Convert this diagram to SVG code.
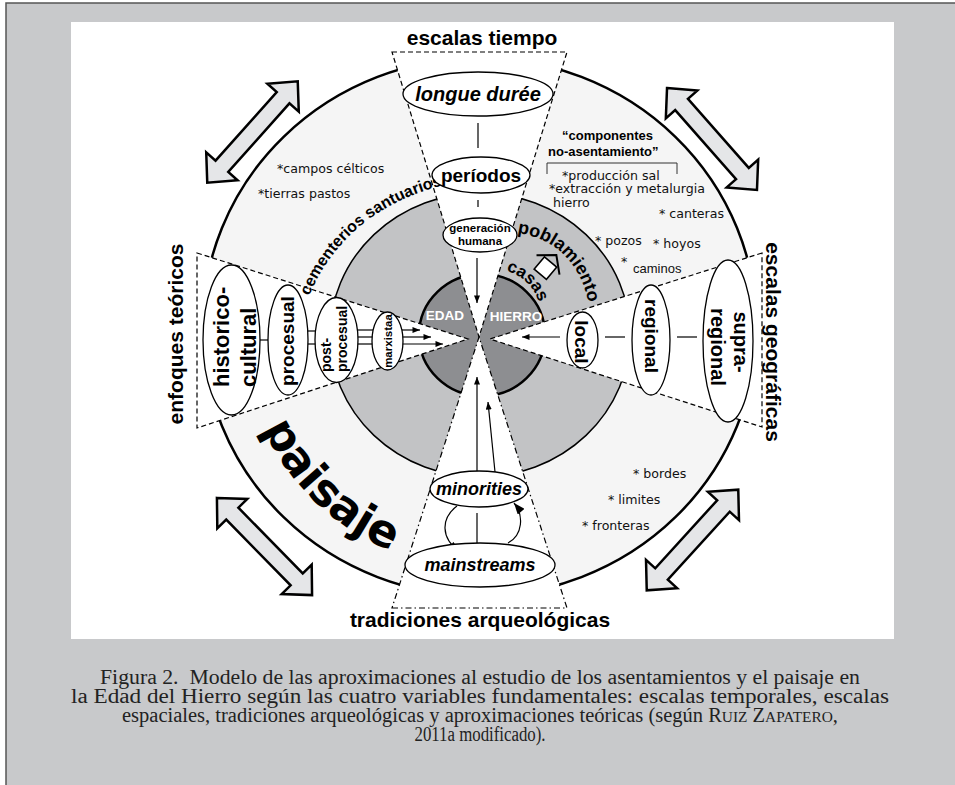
<svg xmlns="http://www.w3.org/2000/svg" width="955" height="785" viewBox="0 0 955 785">
<defs>
<style>
.sans{font-family:"Liberation Sans",Arial,sans-serif;}
.b{font-weight:bold;}
.i{font-style:italic;}
.node{fill:#fff;stroke:#000;stroke-width:1.3;}
.dash{fill:#fff;stroke:#000;stroke-width:1.2;stroke-dasharray:5,3;}
.dashdot{fill:#fff;stroke:#000;stroke-width:1.2;stroke-dasharray:6,3,1.5,3;}
.ln{stroke:#000;stroke-width:1.2;fill:none;}
.comic{font-family:"DejaVu Sans",sans-serif;font-size:12.6px;fill:#111;}
.cap{font-family:"Liberation Serif","Times New Roman",serif;font-size:20px;fill:#222;}
.barrow{fill:#e5e6e8;stroke:#000;stroke-width:2.5;stroke-linejoin:miter;}
</style>
<marker id="ah" viewBox="0 0 10 8" refX="10" refY="4" markerWidth="8" markerHeight="6" orient="auto" markerUnits="userSpaceOnUse"><path d="M0,0 L10,4 L0,8 z" fill="#000"/></marker>
<marker id="ahb" viewBox="0 0 10 8" refX="10" refY="4" markerWidth="12" markerHeight="9" orient="auto" markerUnits="userSpaceOnUse"><path d="M0,0 L10,4 L0,8 z" fill="#000"/></marker>
<path id="dbl" d="M-68,0 L-46,-21 L-46,-8.5 L46,-8.5 L46,-21 L68,0 L46,21 L46,8.5 L-46,8.5 L-46,21 Z"/>
<path id="pCem" d="M309,296 Q345,212 440,186"/>
<path id="pPob" d="M517,233 Q573,241 588,300"/>
<path id="pCas" d="M506,271 Q533,278 541,309"/>
<path id="pPai" d="M250.1,391.6 A238,238 0 0 0 438.7,564.4"/>
</defs>

<!-- page -->
<rect x="0" y="0" width="955" height="785" fill="#fff"/>
<rect x="6" y="3" width="949" height="782" fill="#c8c9cb"/>
<path d="M6,785 L6,3 L955,3" fill="none" stroke="#555" stroke-width="1.5"/>
<rect x="71" y="22" width="823" height="617" fill="#fff"/>

<!-- rings -->
<ellipse cx="479.5" cy="327" rx="277" ry="269" fill="#f5f5f5" stroke="#000" stroke-width="2.5"/>
<ellipse cx="480" cy="335" rx="150" ry="142" fill="#c2c3c5" stroke="#000" stroke-width="1.5"/>
<ellipse cx="482" cy="335" rx="63" ry="61" fill="#8d8e91" stroke="#000" stroke-width="2.5"/>

<!-- cones -->
<path class="dash" d="M392,52 L567,52 L479,337 Z"/>
<path class="dashdot" d="M392,608 L567,608 L479,337 Z"/>
<path class="dash" d="M197,253 L468,339 L197,428 Z"/>
<path class="dash" d="M762,253 L490,339 L762,427 Z"/>

<!-- block arrows -->
<use href="#dbl" class="barrow" transform="translate(252.5,132) rotate(-48.3)"/>
<use href="#dbl" class="barrow" transform="translate(712,139) rotate(48.6)"/>
<use href="#dbl" class="barrow" transform="translate(264.5,546.5) rotate(45.6)"/>
<use href="#dbl" class="barrow" transform="translate(692.5,540) rotate(-47.7)"/>

<!-- headings -->
<text class="sans b" x="482" y="45" font-size="21" text-anchor="middle">escalas tiempo</text>
<text class="sans b" x="480" y="627" font-size="21" text-anchor="middle">tradiciones arqueológicas</text>
<text class="sans b" font-size="21" text-anchor="middle" transform="translate(183,334) rotate(-90)">enfoques teóricos</text>
<text class="sans b" font-size="21" text-anchor="middle" transform="translate(766,342) rotate(90)">escalas geográficas</text>

<!-- ring texts -->
<text class="sans b" font-size="16"><textPath href="#pCem">cementerios santuarios</textPath></text>
<text class="sans b" font-size="18"><textPath href="#pPob">poblamiento</textPath></text>
<text class="sans b" font-size="17"><textPath href="#pCas">casas</textPath></text>
<text font-family="DejaVu Sans,sans-serif" font-weight="bold" font-size="45" text-anchor="middle"><textPath href="#pPai" startOffset="48%">paisaje</textPath></text>
<g transform="translate(548,265) rotate(40)">
<rect x="-8" y="-4" width="16" height="16" fill="#fff" stroke="#000" stroke-width="1.6"/>
<polyline points="-15,0 0,-13 15,0" fill="none" stroke="#000" stroke-width="2"/>
</g>
<text class="sans b" x="445" y="320" font-size="13.5" fill="#fff" text-anchor="middle">EDAD</text>
<text class="sans b" x="516" y="321" font-size="13.5" fill="#fff" text-anchor="middle">HIERRO</text>

<text class="comic" x="277" y="173">*campos célticos</text>
<text class="comic" x="258" y="198">*tierras pastos</text>
<text class="sans b" x="562" y="140" font-size="13">“componentes</text>
<text class="sans b" x="548" y="156" font-size="13">no-asentamiento”</text>
<path d="M547,174 L547,163 L677,163 L677,174" fill="none" stroke="#333" stroke-width="1"/>
<text class="comic" x="562" y="180">*producción sal</text>
<text class="comic" x="549" y="193">*extracción y metalurgia</text>
<text class="comic" x="553" y="207">hierro</text>
<text class="comic" x="659" y="218">* canteras</text>
<text class="comic" x="595" y="245">* pozos</text>
<text class="comic" x="653" y="248">* hoyos</text>
<text class="comic" x="621" y="266">*</text>
<text class="sans" x="633" y="273" font-size="13" fill="#111">caminos</text>
<text class="comic" x="633" y="478">* bordes</text>
<text class="comic" x="608" y="504">* limites</text>
<text class="comic" x="582" y="530">* fronteras</text>

<!-- connectors -->
<g id="connectors">
<line class="ln" x1="478" y1="123" x2="478" y2="148"/>
<line class="ln" x1="478" y1="200" x2="478" y2="207"/>
<line class="ln" x1="477" y1="258" x2="477" y2="303" marker-end="url(#ah)"/>
<line class="ln" x1="477" y1="471" x2="477" y2="377" marker-end="url(#ah)"/>
<line class="ln" x1="495" y1="472" x2="488" y2="402" marker-end="url(#ah)"/>
<line class="ln" x1="477" y1="513" x2="477" y2="543"/>
<path class="ln" d="M457,506 C441,518 440,538 460,552" marker-end="url(#ahb)"/>
<path class="ln" d="M508,543 C523,535 524,515 514,503" marker-end="url(#ahb)"/>
<line class="ln" x1="260" y1="340" x2="268" y2="340"/>
<line class="ln" x1="308" y1="331" x2="316" y2="331"/>
<line class="ln" x1="308" y1="344" x2="316" y2="344"/>
<line class="ln" x1="358" y1="330" x2="373" y2="330"/>
<line class="ln" x1="358" y1="337" x2="373" y2="337"/>
<line class="ln" x1="358" y1="344" x2="373" y2="344"/>
<line class="ln" x1="402" y1="330" x2="420" y2="330" marker-end="url(#ah)"/>
<line class="ln" x1="402" y1="337" x2="431" y2="337" marker-end="url(#ah)"/>
<line class="ln" x1="402" y1="344" x2="443" y2="344" marker-end="url(#ah)"/>
<line class="ln" x1="605" y1="337" x2="625" y2="337"/>
<line class="ln" x1="677" y1="337" x2="697" y2="337"/>
<line class="ln" x1="560" y1="337" x2="522" y2="337" marker-end="url(#ah)"/>
</g>

<!-- nodes -->
<g id="n-longue"><ellipse class="node" cx="478" cy="94" rx="75" ry="22"/><text class="sans b i" x="478" y="101" font-size="20" text-anchor="middle">longue durée</text></g>
<g id="n-periodos"><ellipse class="node" cx="481" cy="175" rx="49" ry="18"/><text class="sans b" x="481" y="182" font-size="19" text-anchor="middle">períodos</text></g>
<g id="n-generacion"><ellipse class="node" cx="480" cy="235" rx="37" ry="17"/><text class="sans b" x="480" y="232" font-size="11.5" text-anchor="middle">generación</text><text class="sans b" x="480" y="245" font-size="11.5" text-anchor="middle">humana</text></g>
<g id="n-minorities"><ellipse class="node" cx="479" cy="489" rx="49" ry="18"/><text class="sans b i" x="479" y="495" font-size="18" text-anchor="middle">minorities</text></g>
<g id="n-mainstreams"><ellipse class="node" cx="480" cy="565" rx="75" ry="22"/><text class="sans b i" x="480" y="571" font-size="18" text-anchor="middle">mainstreams</text></g>
<g id="n-historico"><ellipse class="node" cx="231.5" cy="340" rx="28.5" ry="75"/><text class="sans b" font-size="22" transform="translate(229,387) rotate(-90)">historico-</text><text class="sans b" font-size="22" transform="translate(256,387) rotate(-90)">cultural</text></g>
<g id="n-procesual"><ellipse class="node" cx="288" cy="340" rx="20" ry="55"/><text class="sans b" font-size="19" text-anchor="middle" transform="translate(294,341) rotate(-90)">procesual</text></g>
<g id="n-post"><ellipse class="node" cx="336.5" cy="340" rx="21.5" ry="42.5"/><text class="sans b" font-size="14" transform="translate(331,372) rotate(-90)">post-</text><text class="sans b" font-size="14" transform="translate(347,372) rotate(-90)">procesual</text></g>
<g id="n-marx"><ellipse class="node" cx="387.5" cy="341" rx="15.5" ry="29"/><text class="sans b" font-size="11.5" text-anchor="middle" transform="translate(392,341) rotate(-90)">marxistaa</text></g>
<g id="n-local"><ellipse class="node" cx="582.5" cy="340" rx="15.5" ry="28"/><text class="sans b" font-size="19" text-anchor="middle" transform="translate(575,342) rotate(90)">local</text></g>
<g id="n-regional"><ellipse class="node" cx="651" cy="340" rx="19" ry="55"/><text class="sans b" font-size="19" text-anchor="middle" transform="translate(645,336) rotate(90)">regional</text></g>
<g id="n-supra"><ellipse class="node" cx="728" cy="341" rx="25" ry="81"/><text class="sans b" font-size="20" text-anchor="middle" transform="translate(734,342) rotate(90)">supra-</text><text class="sans b" font-size="20" text-anchor="middle" transform="translate(711,347) rotate(90)">regional</text></g>

<!-- caption -->
<text class="cap" x="480" y="684" text-anchor="middle" textLength="760" lengthAdjust="spacingAndGlyphs">Figura 2.&#160; Modelo de las aproximaciones al estudio de los asentamientos y el paisaje en</text>
<text class="cap" x="480" y="703" text-anchor="middle" textLength="818" lengthAdjust="spacingAndGlyphs">la Edad del Hierro según las cuatro variables fundamentales: escalas temporales, escalas</text>
<text class="cap" x="480" y="722" text-anchor="middle" textLength="716" lengthAdjust="spacingAndGlyphs">espaciales, tradiciones arqueológicas y aproximaciones teóricas (según R<tspan font-size="15">UIZ</tspan> Z<tspan font-size="15">APATERO</tspan>,</text>
<text class="cap" x="480" y="741" text-anchor="middle" textLength="131" lengthAdjust="spacingAndGlyphs">2011a modificado).</text>
</svg>
